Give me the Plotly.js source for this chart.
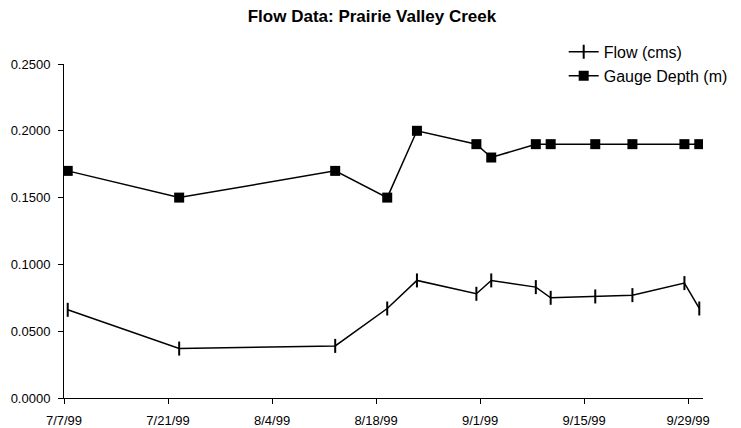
<!DOCTYPE html>
<html>
<head>
<meta charset="utf-8">
<script src="https://cdn.plot.ly/plotly-3.0.1.min.js"></script>
<style>html,body{margin:0;padding:0;background:#fff;}#chart{width:741px;height:428px;}</style>
</head>
<body>
<div id="chart"></div>
<script>
const dates = ['1999-07-07','1999-07-22','1999-08-12','1999-08-19','1999-08-23','1999-08-31','1999-09-02','1999-09-08','1999-09-10','1999-09-16','1999-09-21','1999-09-28','1999-09-30'];
const flow = [0.066,0.037,0.039,0.067,0.088,0.078,0.088,0.083,0.075,0.076,0.077,0.086,0.067];
const gaugeDepth = [0.17,0.15,0.17,0.15,0.20,0.19,0.18,0.19,0.19,0.19,0.19,0.19,0.19];
const tickDates = ['1999-07-07','1999-07-21','1999-08-04','1999-08-18','1999-09-01','1999-09-15','1999-09-29'];
const tickLabels = ['7/7/99','7/21/99','8/4/99','8/18/99','9/1/99','9/15/99','9/29/99'];

const font = 'Liberation Sans, Arial, sans-serif';
const traces = [
  {x: dates, y: flow, name: 'Flow (cms)', type: 'scatter', mode: 'lines+markers',
   xperiod: 86400000, xperiodalignment: 'middle', legendgroup: 'a',
   line: {color: '#000', width: 1.5},
   marker: {symbol: 'line-ns', size: 10, color: '#000', line: {color: '#000', width: 2}}},
  {x: dates, y: gaugeDepth, name: 'Gauge Depth (m)', type: 'scatter', mode: 'lines+markers',
   xperiod: 86400000, xperiodalignment: 'middle', legendgroup: 'b',
   line: {color: '#000', width: 1.5},
   marker: {symbol: 'square', size: 10, color: '#000'}}
];
const layout = {
  width: 741, height: 428,
  margin: {l: 64, r: 38, t: 64, b: 30, autoexpand: false},
  paper_bgcolor: '#fff', plot_bgcolor: '#fff',
  font: {family: font, color: '#000', size: 13},
  title: {text: '<b>Flow Data: Prairie Valley Creek</b>', font: {family: font, size: 17, color: '#000'},
          x: 0.502, xanchor: 'center', y: 0.962, yanchor: 'middle'},
  showlegend: true,
  legend: {x: 0.782, xanchor: 'left', y: 1.087, yanchor: 'top', traceorder: 'grouped', tracegroupgap: 0,
           font: {family: font, size: 16, color: '#000'}, bgcolor: 'rgba(0,0,0,0)'},
  xaxis: {type: 'date', range: ['1999-07-07', '1999-10-01'], tickmode: 'array', tickvals: tickDates, ticktext: tickLabels,
          showgrid: false, zeroline: false, showline: true, linecolor: '#000', linewidth: 1,
          ticks: 'outside', ticklen: 5, tickcolor: '#000', ticklabelstandoff: 5,
          tickfont: {family: font, size: 13, color: '#000'}},
  yaxis: {range: [0, 0.25], tickvals: [0, 0.05, 0.1, 0.15, 0.2, 0.25], tickformat: '.4f',
          showgrid: false, zeroline: false, showline: true, linecolor: '#000', linewidth: 1,
          ticks: 'outside', ticklen: 5, tickcolor: '#000', ticklabelstandoff: 5,
          tickfont: {family: font, size: 13, color: '#000'}}
};
Plotly.newPlot('chart', traces, layout, {displayModeBar: false, staticPlot: true});
</script>
</body>
</html>
